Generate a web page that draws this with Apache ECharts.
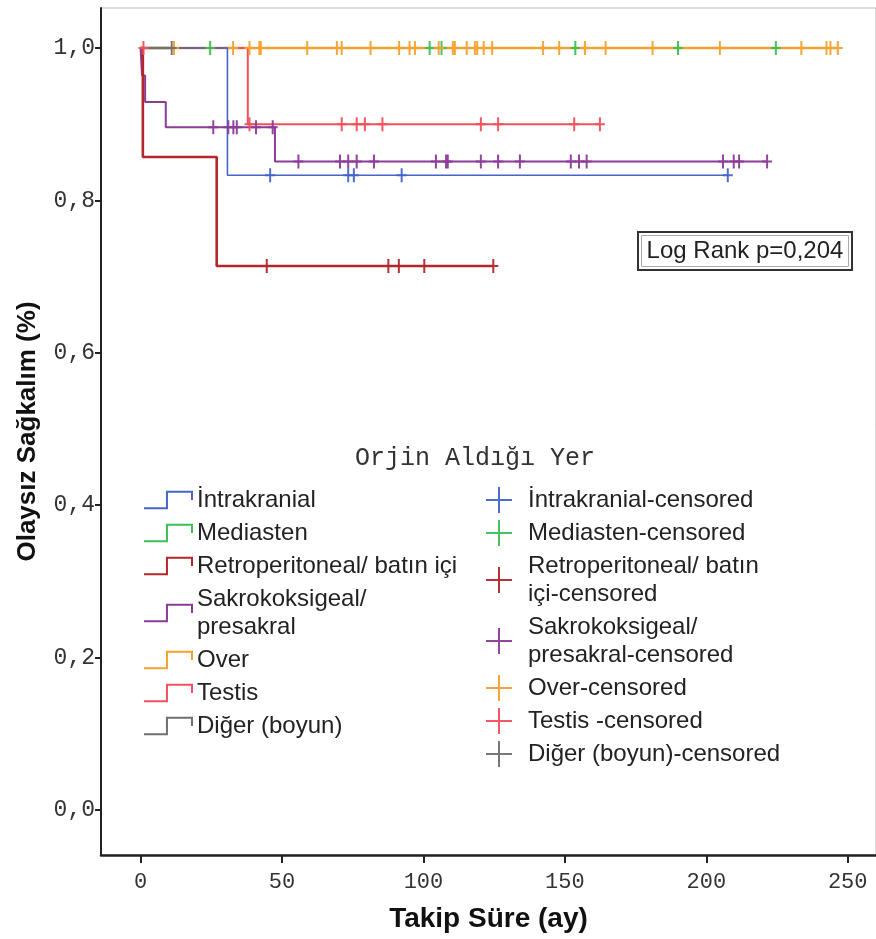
<!DOCTYPE html>
<html><head><meta charset="utf-8">
<script src="https://cdn.jsdelivr.net/npm/echarts@6/dist/echarts.min.js"></script>
<style>html,body{margin:0;padding:0;background:#fff}#c{width:876px;height:939px}</style>
</head><body><div id="c"></div>
<script>
// ---- data ----
const groupNames = ['İntrakranial','Mediasten','Retroperitoneal/ batın içi','Sakrokoksigeal/ presakral','Over','Testis','Diğer (boyun)'];
const lineLegendText = ['İntrakranial','Mediasten','Retroperitoneal/ batın içi','Sakrokoksigeal/\npresakral','Over','Testis','Diğer (boyun)'];
const censorLegendText = ['İntrakranial-censored','Mediasten-censored','Retroperitoneal/ batın\niçi-censored','Sakrokoksigeal/\npresakral-censored','Over-censored','Testis -censored','Diğer (boyun)-censored'];

const intraEventTimes = [30.7];
const intraSurvival = [0.833];
const intraCensored = [45.8, 73.4, 75.4, 92.3, 207.6];

const mediEventTimes = [];
const mediSurvival = [];
const mediCensored = [24.6, 102.2, 106.4, 153.7, 190.0, 224.6];

const retroEventTimes = [0.8, 26.9];
const retroSurvival = [0.857, 0.714];
const retroCensored = [44.6, 87.6, 91.3, 100.3, 124.7];

const sakroEventTimes = [0.5, 1.6, 8.9, 47.5];
const sakroSurvival = [0.964, 0.929, 0.896, 0.851];
const sakroCensored = [25.7, 31.0, 32.8, 34.0, 40.8, 46.7, 55.8, 70.5, 73.4, 76.4, 82.5, 104.4, 108.0, 108.6, 120.3, 126.4, 134.1, 152.1, 155.0, 157.7, 205.9, 209.7, 211.6, 221.5];

const overEventTimes = [];
const overSurvival = [];
const overCensored = [11.8, 32.7, 38.5, 42.0, 42.5, 58.9, 69.4, 71.1, 81.3, 91.4, 95.1, 97.0, 105.4, 110.4, 111.1, 115.3, 118.2, 119.0, 121.3, 124.3, 142.3, 148.0, 157.1, 164.4, 181.0, 204.8, 233.6, 242.5, 243.9, 246.5];

const testisEventTimes = [37.9];
const testisSurvival = [0.9];
const testisCensored = [1.0, 38.5, 71.1, 76.4, 79.3, 85.5, 120.3, 126.4, 153.3, 162.4];

const digerEventTimes = [];
const digerSurvival = [];
const digerCensored = [11.0];

const xTicks = [0, 50, 100, 150, 200, 250];
const yTicks = [0, 0.2, 0.4, 0.6, 0.8, 1.0];

// ---- styling ----
const colors = ['#4565c8', '#3cbf55', '#b3272c', '#8b3b98', '#f5a12e', '#f2505c', '#707070'];
const widths = [1.6, 2, 2.6, 2, 2.6, 2, 2.4];
const lineZ = [7, 1, 4, 3, 2, 5, 8];

const groups = [
  [intraEventTimes, intraSurvival, intraCensored],
  [mediEventTimes, mediSurvival, mediCensored],
  [retroEventTimes, retroSurvival, retroCensored],
  [sakroEventTimes, sakroSurvival, sakroCensored],
  [overEventTimes, overSurvival, overCensored],
  [testisEventTimes, testisSurvival, testisCensored],
  [digerEventTimes, digerSurvival, digerCensored]
];

function survAt(ev, sv, t) {
  let s = 1;
  for (let i = 0; i < ev.length; i++) if (ev[i] <= t) s = sv[i];
  return s;
}
function curve(ev, sv, cen) {
  const pts = [[0, 1]];
  for (let i = 0; i < ev.length; i++) pts.push([ev[i], sv[i]]);
  const end = Math.max(cen.length ? cen[cen.length - 1] : 0, ev.length ? ev[ev.length - 1] : 0);
  pts.push([end, survAt(ev, sv, end)]);
  return pts;
}

const crossSymbol = 'path://M4,0H6V14H4Z M0,6H10V8H0Z';
const legendCross = 'path://M12,0H14V26H12Z M0,12H26V14H0Z';
const stepIcon = 'path://M0,17H22V1H46V9';

const series = [];
groups.forEach((g, i) => {
  series.push({
    name: groupNames[i], type: 'line', step: 'end', symbol: 'none', z: lineZ[i],
    data: curve(g[0], g[1], g[2]),
    itemStyle: { color: colors[i] },
    lineStyle: { color: colors[i], width: widths[i] },
    silent: true, animation: false
  });
});
groups.forEach((g, i) => {
  series.push({
    name: groupNames[i] + '-censored', type: 'scatter', symbol: crossSymbol, symbolSize: [10, 14], z: 10 + lineZ[i],
    data: g[2].map(t => [t, survAt(g[0], g[1], t)]),
    itemStyle: { color: colors[i], opacity: 0.95 },
    silent: true, animation: false
  });
});

const chart = echarts.init(document.getElementById('c'), null, { renderer: 'canvas' });
chart.setOption({
  backgroundColor: '#fff',
  animation: false,
  grid: { left: 101, right: 0, top: 8, bottom: 84, outerBoundsMode: 'none', containLabel: false, show: true, borderColor: '#bbb', borderWidth: 1 },
  xAxis: {
    type: 'value', min: -14, max: 260,
    name: 'Takip Süre (ay)', nameLocation: 'middle', nameGap: 50,
    nameTextStyle: { fontFamily: 'Liberation Sans', fontWeight: 'bold', fontSize: 28, color: '#111' },
    axisLine: { onZero: false, lineStyle: { color: '#222', width: 2.5 } },
    axisTick: { customValues: xTicks, length: 8, lineStyle: { color: '#222', width: 2 } },
    axisLabel: { customValues: xTicks, margin: 16, fontFamily: 'Liberation Mono', fontSize: 22, color: '#333' },
    splitLine: { show: false }
  },
  yAxis: {
    type: 'value', min: -0.059, max: 1.0525,
    name: 'Olaysız Sağkalım (%)', nameLocation: 'middle', nameGap: 60,
    nameTextStyle: { fontFamily: 'Liberation Sans', fontWeight: 'bold', fontSize: 26, color: '#111' },
    axisLine: { show: true, onZero: false, lineStyle: { color: '#222', width: 2 } },
    axisTick: { show: true, customValues: yTicks, length: 6, lineStyle: { color: '#222', width: 2 } },
    axisLabel: { customValues: yTicks, margin: 6, fontFamily: 'Liberation Mono', fontSize: 23, color: '#333',
      formatter: v => v.toFixed(1).replace('.', ',') },
    splitLine: { show: false }
  },
  legend: [
    {
      orient: 'vertical', left: 143, top: 486, padding: 0, itemWidth: 48, itemHeight: 18, itemGap: 5,
      icon: stepIcon, selectedMode: false,
      data: groupNames.map((n, i) => ({ name: n, itemStyle: { color: 'transparent', borderColor: colors[i], borderWidth: 2 } })),
      formatter: n => lineLegendText[groupNames.indexOf(n)],
      textStyle: { fontFamily: 'Liberation Sans', fontSize: 24, lineHeight: 28, color: '#222' }
    },
    {
      orient: 'vertical', left: 486, top: 486, padding: 0, itemWidth: 40, itemHeight: 26, itemGap: 5,
      icon: legendCross, selectedMode: false,
      data: groupNames.map((n, i) => ({ name: n + '-censored', itemStyle: { color: colors[i], borderWidth: 0 } })),
      formatter: n => censorLegendText[groupNames.indexOf(n.replace('-censored', ''))],
      textStyle: { fontFamily: 'Liberation Sans', fontSize: 24, lineHeight: 28, color: '#222', padding: [0, 0, 0, 4] }
    }
  ],
  graphic: [
    { type: 'text', x: 475, y: 458, style: { text: 'Orjin Aldığı Yer', font: '25px "Liberation Mono"', fill: '#333', align: 'center', verticalAlign: 'middle' }, z: 50 },
    { type: 'rect', shape: { x: 638, y: 232, width: 214, height: 38 }, style: { fill: '#fff', stroke: '#333', lineWidth: 2 }, z: 50 },
    { type: 'rect', shape: { x: 641.5, y: 235.5, width: 207, height: 31 }, style: { fill: 'none', stroke: '#aaa', lineWidth: 1 }, z: 51 },
    { type: 'text', x: 745, y: 251, style: { text: 'Log Rank p=0,204', font: '24px "Liberation Sans"', fill: '#222', align: 'center', verticalAlign: 'middle' }, z: 52 }
  ],
  series: series
});
</script>
</body></html>
